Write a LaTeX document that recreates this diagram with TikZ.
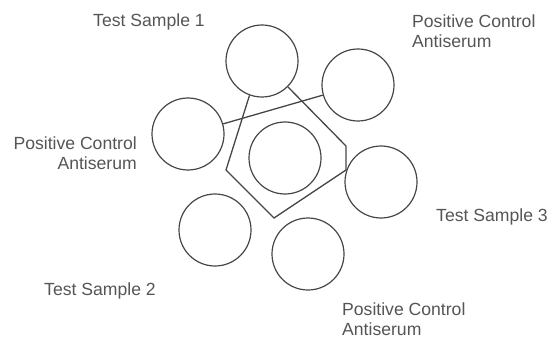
\documentclass[tikz,border=0pt]{standalone}
\usepackage{fontspec}
\setmainfont{Liberation Sans}
\usetikzlibrary{positioning}
\definecolor{inkgray}{RGB}{70,70,70}
\definecolor{labelgray}{RGB}{85,85,85}

\begin{document}
\begin{tikzpicture}[x=1pt, y=-1pt,
    well/.style={circle, draw=inkgray, line width=1.2pt, minimum size=72pt, inner sep=0pt},
    lbl/.style={text=labelgray, font=\fontsize{17.6}{20}\selectfont, inner sep=0pt},
    trough/.style={draw=inkgray, line width=1.3pt, line join=miter}]
  \useasboundingbox (0,0) rectangle (553,339);
  % --- wells ---
  \node[well] (ts1) at (262,61) {};
  \node[well] (pcA) at (358,85) {};
  \node[well] (pcB) at (188,134) {};
  \node[well] (ctr) at (285,158) {};
  \node[well] (ts3) at (381,182) {};
  \node[well] (ts2) at (215,230) {};
  \node[well] (pcC) at (308,254) {};
  % --- labels ---
  \node[lbl, anchor=base] (l1) at (149,27) {Test Sample 1};
  \node[lbl, anchor=base west, align=left] (l2) at (412,48) {Positive Control\\Antiserum};
  \node[lbl, anchor=base east, align=right] (l3) at (137,169) {Positive Control\\Antiserum};
  \node[lbl, anchor=base] (l4) at (492,221) {Test Sample 3};
  \node[lbl, anchor=base] (l5) at (100,295) {Test Sample 2};
  \node[lbl, anchor=base west, align=left] (l6) at (342,335) {Positive Control\\Antiserum};
  % --- cut troughs ---
  \coordinate (k1) at (226,170);
  \coordinate (k2) at (274,218);
  \coordinate (k3) at (346,170);
  \coordinate (k4) at (346,146);
  \draw[trough] (pcB) -- (pcA);
  \draw[trough] (ts1.250) -- (k1) -- (k2) -- (k3) -- (k4) -- (ts1.315);
\end{tikzpicture}
\end{document}
